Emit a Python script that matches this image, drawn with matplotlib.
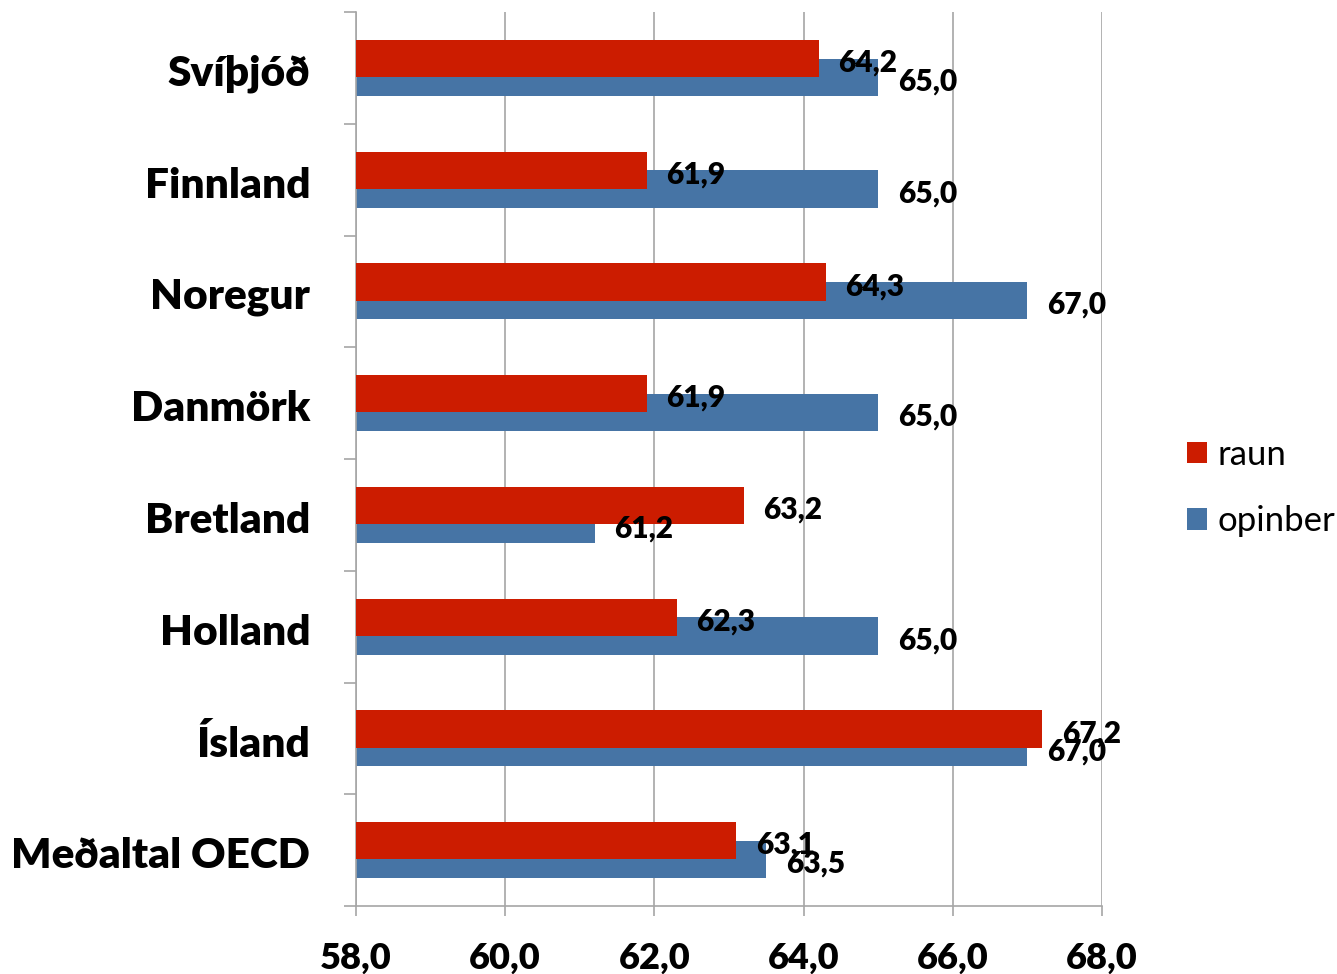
import numpy as np
import matplotlib.pyplot as plt
from matplotlib.ticker import FixedLocator

plt.rcParams['font.family'] = ['Lato', 'DejaVu Sans']

countries = ['Svíþjóð', 'Finnland', 'Noregur', 'Danmörk', 'Bretland',
             'Holland', 'Ísland', 'Meðaltal OECD']
raun = [64.2, 61.9, 64.3, 61.9, 63.2, 62.3, 67.2, 63.1]
opinber = [65.0, 65.0, 67.0, 65.0, 61.2, 65.0, 67.0, 63.5]
xticks = [58.0, 60.0, 62.0, 64.0, 66.0, 68.0]

red = '#CC1C00'
blue = '#4674A5'
gray = '#A6A6A6'
heavy = 'heavy'

fig = plt.figure(figsize=(13.37, 9.74), dpi=100)
ax = fig.add_axes([356/1337, 1-906/974, 746/1337, 894/974])

y = np.arange(len(countries))
h = 0.333
ax.barh(y + h/4, opinber, height=h, color=blue, label='opinber', zorder=2)
ax.barh(y - h/4, raun, height=h, color=red, label='raun', zorder=3)

def fmt(v):
    return f'{v:.1f}'.replace('.', ',')

for i in range(len(countries)):
    ax.annotate(fmt(raun[i]), (raun[i], y[i] - h/4), xytext=(14, -3),
                textcoords='offset points', ha='left', va='center',
                fontsize=21.5, fontweight=heavy, zorder=4)
    ax.annotate(fmt(opinber[i]), (opinber[i], y[i] + h/4), xytext=(14, -3),
                textcoords='offset points', ha='left', va='center',
                fontsize=21.5, fontweight=heavy, zorder=4)

ax.set_xlim(58, 68)
ax.set_ylim(len(countries) - 0.5, -0.5)
ax.set_xticks(xticks)
ax.set_xticklabels([fmt(t) for t in xticks], fontsize=26, fontweight=heavy)
# names sit slightly below the middle of each group
ax.set_yticks(y + 0.054)
ax.set_yticklabels(countries, fontsize=30.5, fontweight=heavy, va='center')
ax.yaxis.set_minor_locator(FixedLocator(np.arange(-0.5, len(countries), 1.0)))

ax.tick_params(axis='y', which='major', length=0, pad=33)
ax.tick_params(axis='y', which='minor', length=9, width=1.2, color=gray)
ax.tick_params(axis='x', which='major', length=7, width=1.2, color=gray, pad=19)

ax.grid(axis='x', color=gray, linewidth=1.2, zorder=0)
ax.set_axisbelow(True)
for s in ['top', 'right']:
    ax.spines[s].set_visible(False)
for s in ['left', 'bottom']:
    ax.spines[s].set_color(gray)
    ax.spines[s].set_linewidth(1.2)

handles, labels = ax.get_legend_handles_labels()
ax.legend(handles[::-1], labels[::-1], loc='center left',
          bbox_to_anchor=(1.114, 0.4676), frameon=False, fontsize=25,
          handlelength=0.58, handleheight=0.58, handletextpad=0.3,
          labelspacing=1.0, borderpad=0, borderaxespad=0)

fig.savefig('out.png', dpi=100)
